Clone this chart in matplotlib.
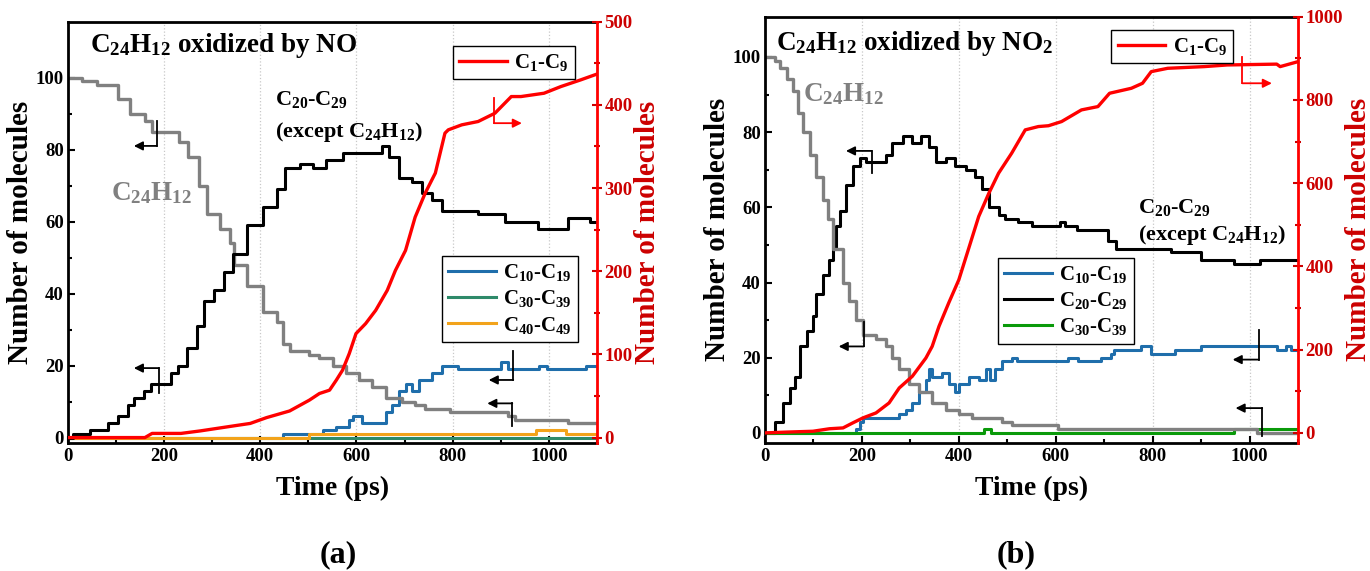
import matplotlib.pyplot as plt

plt.rcParams['font.family'] = 'Liberation Serif'
plt.rcParams['font.weight'] = 'bold'
plt.rcParams['axes.labelweight'] = 'bold'
plt.rcParams['mathtext.fontset'] = 'custom'
plt.rcParams['mathtext.rm'] = 'Liberation Serif:bold'
plt.rcParams['mathtext.it'] = 'Liberation Serif:bold:italic'
plt.rcParams['mathtext.bf'] = 'Liberation Serif:bold'

# ---- (a) C24H12 + NO ----
a_pah_t = [0, 30, 60, 85, 105, 130, 160, 175, 200, 230, 250, 272, 290, 317, 337, 345, 372, 406,
           434, 447, 461, 502, 523, 551, 578, 605, 633, 661, 695, 722, 743, 795, 915, 930, 1040, 1100]
a_pah_v = [100, 99, 98, 98, 94, 90, 88, 85, 85, 82, 78, 70, 62, 58, 54, 48, 42, 35,
           32, 26, 24, 23, 22, 20, 18, 16, 14, 11, 10, 9, 8, 7, 6, 5, 4, 4]

a_c20_t = [0, 10, 45, 83, 104, 124, 138, 159, 173, 200, 214, 228, 248, 269, 282, 303, 324, 344,
           372, 406, 434, 451, 482, 509, 537, 571, 598, 640, 654, 667, 688, 715, 736, 757, 777,
           853, 908, 977, 1039, 1086, 1100]
a_c20_v = [0, 1, 2, 4, 6, 9, 11, 13, 15, 15, 18, 20, 25, 31, 38, 41, 46, 51,
           59, 64, 69, 75, 76, 75, 77, 79, 79, 79, 81, 78, 72, 71, 68, 66, 63,
           62, 60, 58, 61, 60, 60]

a_c1_t = [0, 160, 175, 235, 275, 344, 379, 413, 461, 502, 523, 544, 558, 571, 585, 599, 619, 640,
          664, 681, 702, 722, 743, 764, 784, 791, 819, 853, 888, 922, 942, 990, 1025, 1066, 1100]
a_c1_v = [0, 0, 5, 5, 8, 14, 17, 24, 32, 45, 53, 57, 69, 81, 101, 125, 137, 153,
          177, 201, 225, 265, 294, 318, 366, 370, 376, 380, 390, 410, 410, 414, 422, 430, 437]

a_c10_t = [0, 447, 530, 558, 585, 592, 612, 661, 674, 688, 702, 715, 729, 757, 777, 812, 901,
           915, 980, 997, 1078, 1100]
a_c10_v = [0, 1, 2, 3, 5, 6, 4, 7, 9, 13, 15, 13, 16, 18, 20, 19, 21, 19, 20, 19, 20, 20]

a_c30_t = [0, 1100]
a_c30_v = [0, 0]

a_c40_t = [0, 502, 973, 1035, 1100]
a_c40_v = [0, 1, 2, 1, 1]

# ---- (b) C24H12 + NO2 ----
b_pah_t = [0, 20, 30, 45, 58, 68, 79, 92, 106, 120, 130, 140, 161, 174, 188, 202, 229, 250, 263,
           277, 297, 318, 345, 373, 400, 427, 490, 510, 605, 1015, 1100]
b_pah_v = [100, 99, 97, 94, 91, 85, 80, 74, 68, 62, 57, 49, 40, 35, 30, 26, 25, 23, 20,
           17, 13, 11, 8, 6, 5, 4, 3, 2, 1, 0, 0]

b_c20_t = [0, 20, 38, 51, 62, 72, 86, 99, 106, 120, 133, 140, 147, 154, 168, 181, 195, 209, 236,
           250, 263, 284, 304, 321, 338, 352, 373, 393, 414, 434, 448, 462, 482, 496, 523, 550,
           609, 619, 643, 708, 725, 838, 899, 967, 1022, 1100]
b_c20_v = [0, 3, 8, 12, 15, 23, 27, 31, 37, 42, 46, 49, 55, 59, 66, 71, 73, 72, 72,
           74, 77, 79, 77, 79, 76, 72, 73, 71, 70, 68, 65, 60, 58, 57, 56, 55,
           56, 55, 54, 51, 49, 48, 46, 45, 46, 46]

b_c1_t = [0, 45, 99, 133, 161, 181, 202, 229, 256, 277, 304, 332, 345, 359, 379, 400, 420, 441,
          462, 482, 509, 537, 564, 585, 612, 653, 687, 711, 756, 779, 797, 831, 906, 954, 1056,
          1063, 1100]
b_c1_v = [0, 2, 4, 10, 12, 24, 36, 48, 72, 108, 136, 180, 208, 256, 312, 368, 442, 520,
          576, 624, 672, 728, 736, 738, 748, 776, 784, 816, 828, 840, 868, 876, 880, 884, 886,
          880, 892]

b_c10_t = [0, 188, 195, 202, 277, 291, 304, 318, 332, 338, 345, 366, 379, 393, 400, 421, 441,
           455, 465, 475, 489, 509, 520, 625, 646, 694, 714, 721, 776, 797, 845, 899, 1056,
           1075, 1085, 1100]
b_c10_v = [0, 1, 3, 4, 5, 6, 8, 11, 14, 17, 15, 16, 13, 11, 13, 15, 14,
           17, 14, 17, 19, 20, 19, 20, 19, 20, 21, 22, 23, 21, 22, 23, 22,
           23, 22, 22]

b_c30_t = [0, 451, 467, 967, 1100]
b_c30_v = [0, 1, 0, 1, 1]

RED = '#ff0000'
DARKRED = '#cc0000'
GREY = '#808080'
BLUE = '#1f6eab'
TEAL = '#2e8a6a'
ORANGE = '#f2a31b'
GREEN = '#0a9a0a'

LEG_KW = dict(fontsize=15, handlelength=2.3, handletextpad=0.35, borderpad=0.3,
              labelspacing=0.25, borderaxespad=0, fancybox=False, edgecolor='black',
              framealpha=1)


def style_axes(ax, ax2, ylim, ylim2, yticks2):
    ax.set_xlim(0, 1100)
    ax.set_ylim(*ylim)
    ax2.set_ylim(*ylim2)
    ax.set_xticks(range(0, 1101, 200))
    ax.set_xticks(range(100, 1101, 200), minor=True)
    ax.set_yticks(range(0, 101, 20))
    ax.set_yticks(range(10, 101, 20), minor=True)
    ax2.set_yticks(yticks2)
    ax2.set_yticks([v + (yticks2[1] - yticks2[0]) / 2 for v in yticks2[:-1]], minor=True)
    ax.grid(axis='x', linestyle=':', color='#c8c8c8', lw=0.9)
    ax.tick_params(which='both', direction='in', labelsize=13.5, width=1.5)
    ax.tick_params(which='major', length=5)
    ax.tick_params(which='minor', length=3)
    ax.tick_params(axis='y', right=False, pad=3)
    ax2.tick_params(which='both', direction='inout', colors=DARKRED, labelsize=13.5,
                    width=1.5, pad=2)
    ax2.tick_params(which='major', length=7)
    ax2.tick_params(which='minor', length=5)
    for s in ax.spines.values():
        s.set_linewidth(2)
    ax.spines['right'].set_visible(False)
    for name, s in ax2.spines.items():
        s.set_visible(name == 'right')
    ax2.spines['right'].set_color(RED)
    ax2.spines['right'].set_linewidth(2)
    ax.set_xlabel('Time (ps)', fontsize=20, labelpad=8)
    ax.set_ylabel('Number of molecules', fontsize=21, labelpad=1)
    ax2.set_ylabel('Number of molecules', fontsize=21, color=DARKRED, labelpad=1)


def bent_arrow(ax, x, y_low, y_high, x_tip, at_top, color='black'):
    # vertical bar with a horizontal arrow leaving from one end
    ax.plot([x, x], [y_low, y_high], color=color, lw=1.3, zorder=6)
    y = y_high if at_top else y_low
    ax.annotate('', xy=(x_tip, y), xytext=(x, y),
                arrowprops=dict(arrowstyle='-|>', color=color, lw=1.3,
                                mutation_scale=13, shrinkA=0, shrinkB=0), zorder=6)


fig = plt.figure(figsize=(13.7, 5.71), dpi=100)

# panel (a)
ax = fig.add_axes([0.0496, 0.2242, 0.3861, 0.7378])
ax2 = ax.twinx()
ax.plot(a_c10_t, a_c10_v, drawstyle='steps-post', color=BLUE, lw=2.2, label='C$_{10}$-C$_{19}$')
ax.plot(a_c30_t, a_c30_v, drawstyle='steps-post', color=TEAL, lw=2.2, label='C$_{30}$-C$_{39}$')
ax.plot(a_c40_t, a_c40_v, drawstyle='steps-post', color=ORANGE, lw=2.2, label='C$_{40}$-C$_{49}$')
ax.plot(a_pah_t, a_pah_v, drawstyle='steps-post', color=GREY, lw=2.4)
ax.plot(a_c20_t, a_c20_v, drawstyle='steps-post', color='black', lw=2.2)
ax2.plot(a_c1_t, a_c1_v, color=RED, lw=2.4, label='C$_{1}$-C$_{9}$')
style_axes(ax, ax2, (-1.5, 115.5), (-6.5, 500), [0, 100, 200, 300, 400, 500])

ax.text(45, 107, 'C$_{24}$H$_{12}$ oxidized by NO', fontsize=19.5)
ax.text(430, 92.4, 'C$_{20}$-C$_{29}$', fontsize=16)
ax.text(430, 83.6, '(except C$_{24}$H$_{12}$)', fontsize=16)
ax.text(90, 66, 'C$_{24}$H$_{12}$', fontsize=19.5, color=GREY)

leg = ax.legend(loc='upper right', bbox_to_anchor=(0.964, 0.444), **LEG_KW)
leg.get_frame().set_linewidth(1.0)
leg2 = ax2.legend(loc='upper right', bbox_to_anchor=(0.958, 0.943), **LEG_KW)
leg2.get_frame().set_linewidth(1.0)

bent_arrow(ax, 185, 81, 88, 137, at_top=False)
bent_arrow(ax, 189, 12.5, 19.3, 137, at_top=True)
bent_arrow(ax, 926, 16, 24, 875, at_top=False)
bent_arrow(ax, 924, 3.2, 9.5, 872, at_top=True)
bent_arrow(ax2, 886, 378, 408, 944, at_top=False, color=RED)

# panel (b)
bx = fig.add_axes([0.5584, 0.2247, 0.3891, 0.7461])
bx2 = bx.twinx()
bx.plot(b_c10_t, b_c10_v, drawstyle='steps-post', color=BLUE, lw=2.2, label='C$_{10}$-C$_{19}$')
bx.plot(b_c20_t, b_c20_v, drawstyle='steps-post', color='black', lw=2.2, label='C$_{20}$-C$_{29}$')
bx.plot(b_c30_t, b_c30_v, drawstyle='steps-post', color=GREEN, lw=2.2, label='C$_{30}$-C$_{39}$')
bx.plot(b_pah_t, b_pah_v, drawstyle='steps-post', color=GREY, lw=2.4)
bx2.plot(b_c1_t, b_c1_v, color=RED, lw=2.4, label='C$_{1}$-C$_{9}$')
style_axes(bx, bx2, (-2.6, 110.7), (-23.5, 1000), [0, 200, 400, 600, 800, 1000])

bx.text(23, 101.8, 'C$_{24}$H$_{12}$ oxidized by NO$_{2}$', fontsize=19.5)
bx.text(769, 58.4, 'C$_{20}$-C$_{29}$', fontsize=16)
bx.text(769, 51.3, '(except C$_{24}$H$_{12}$)', fontsize=16)
bx.text(79, 88.3, 'C$_{24}$H$_{12}$', fontsize=19.5, color=GREY)

leg = bx.legend(loc='upper left', bbox_to_anchor=(0.437, 0.434), **LEG_KW)
leg.get_frame().set_linewidth(1.0)
leg2 = bx2.legend(loc='upper right', bbox_to_anchor=(0.878, 0.969), **LEG_KW)
leg2.get_frame().set_linewidth(1.0)

bent_arrow(bx, 220, 69, 75, 167, at_top=True)
bent_arrow(bx, 204, 23, 29.4, 152, at_top=False)
bent_arrow(bx, 1019, 19.5, 27.4, 965, at_top=False)
bent_arrow(bx, 1026, -0.9, 6.6, 971, at_top=True)
bent_arrow(bx2, 985, 840, 902, 1046, at_top=False, color=RED)

fig.text(0.247, 0.015, '(a)', fontsize=23, ha='center')
fig.text(0.742, 0.015, '(b)', fontsize=23, ha='center')

fig.savefig('out.png', dpi=100)
